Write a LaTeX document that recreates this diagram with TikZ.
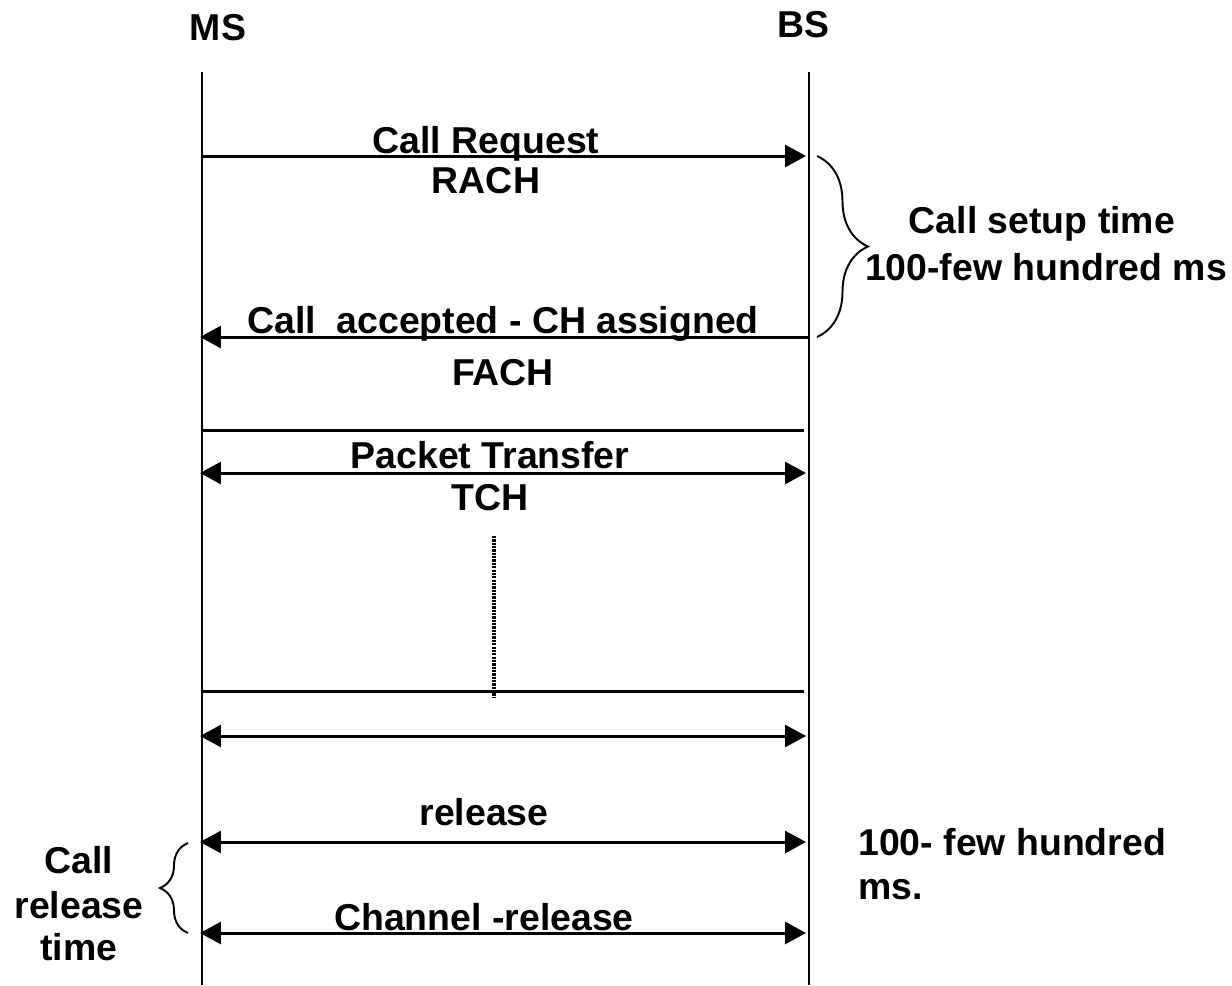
\documentclass[tikz,border=0pt]{standalone}
\usepackage{fontspec}
\setmainfont{Liberation Sans}
\usetikzlibrary{arrows.meta,decorations.pathreplacing}
\begin{document}
\begin{tikzpicture}[x=0.02cm,y=-0.02cm,
  lifeline/.style={line width=1.7pt},
  plainline/.style={line width=1.7pt},
  msg/.style={line width=1.7pt,-{Triangle[length=0.42cm,width=0.44cm]}},
  dmsg/.style={line width=1.7pt,{Triangle[length=0.42cm,width=0.44cm]}-{Triangle[length=0.42cm,width=0.44cm]}},
  dotline/.style={line width=2pt,dash pattern=on 0.045cm off 0.022cm},
  timebrace/.style={line width=1.1pt,decorate},
  lbl/.style={font=\fontsize{21.3}{25}\selectfont\bfseries,inner sep=0pt,anchor=base},
  lbll/.style={lbl,anchor=base west}]
\useasboundingbox (0,0) rectangle (1232,985);

% lifelines
\coordinate (ms-top) at (202,72);  \coordinate (ms-bot) at (202,985);
\coordinate (bs-top) at (809,72);  \coordinate (bs-bot) at (809,985);
\draw[lifeline] (ms-top) -- (ms-bot);
\draw[lifeline] (bs-top) -- (bs-bot);
\node[lbl] (ms) at (218,40) {MS};
\node[lbl] (bs) at (803,37) {BS};

% call request
\coordinate (ms1) at (202,156); \coordinate (bs1) at (806,156);
\draw[msg] (ms1) -- (bs1);
\node[lbl] (req) at (486,153) {Call Request};
\node[lbl] (rach) at (486,193) {RACH};

% call accepted
\coordinate (ms2) at (200,337); \coordinate (bs2) at (808,337);
\draw[msg] (bs2) -- (ms2);
\node[lbl] (acc) at (503,333) {Call~ accepted - CH assigned};
\node[lbl] (fach) at (503,385) {FACH};

% packet transfer
\coordinate (ms3) at (202,430); \coordinate (bs3) at (804,430);
\draw[plainline] (ms3) -- (bs3);
\coordinate (ms4) at (200,473); \coordinate (bs4) at (806,473);
\draw[dmsg] (ms4) -- (bs4);
\node[lbl] (pkt) at (490,468) {Packet Transfer};
\node[lbl] (tch) at (490,510) {TCH};

\coordinate (dot-top) at (494,536); \coordinate (dot-bot) at (494,697);
\draw[dotline] (dot-top) -- (dot-bot);

\coordinate (ms5) at (202,691); \coordinate (bs5) at (804,691);
\draw[plainline] (ms5) -- (bs5);
\coordinate (ms6) at (200,736); \coordinate (bs6) at (806,736);
\draw[dmsg] (ms6) -- (bs6);

% release
\coordinate (ms7) at (200,842); \coordinate (bs7) at (806,842);
\draw[dmsg] (ms7) -- (bs7);
\node[lbl] (rel) at (484,825) {release};
\coordinate (ms8) at (200,933); \coordinate (bs8) at (806,933);
\draw[dmsg] (ms8) -- (bs8);
\node[lbl] (chrel) at (484,930) {Channel -release};

% setup time brace
\coordinate (sb-top) at (817,156); \coordinate (sb-bot) at (817,337);
\draw[timebrace,decoration={brace,amplitude=1.02cm}] (sb-top) -- (sb-bot);
\node[lbl] (setup1) at (1042,233) {Call setup time};
\node[lbl] (setup2) at (1046,280) {100-few hundred ms};

% release time brace
\coordinate (rb-bot) at (188,933); \coordinate (rb-top) at (188,843);
\draw[timebrace,decoration={brace,amplitude=0.56cm}] (rb-bot) -- (rb-top);
\node[lbl] (call) at (79,873) {Call};
\node[lbl] (callrel) at (79,918) {release};
\node[lbl] (calltime) at (79,960) {time};

\node[lbll] (few1) at (858,855) {100- few hundred};
\node[lbll] (few2) at (858,899) {ms.};
\end{tikzpicture}
\end{document}
